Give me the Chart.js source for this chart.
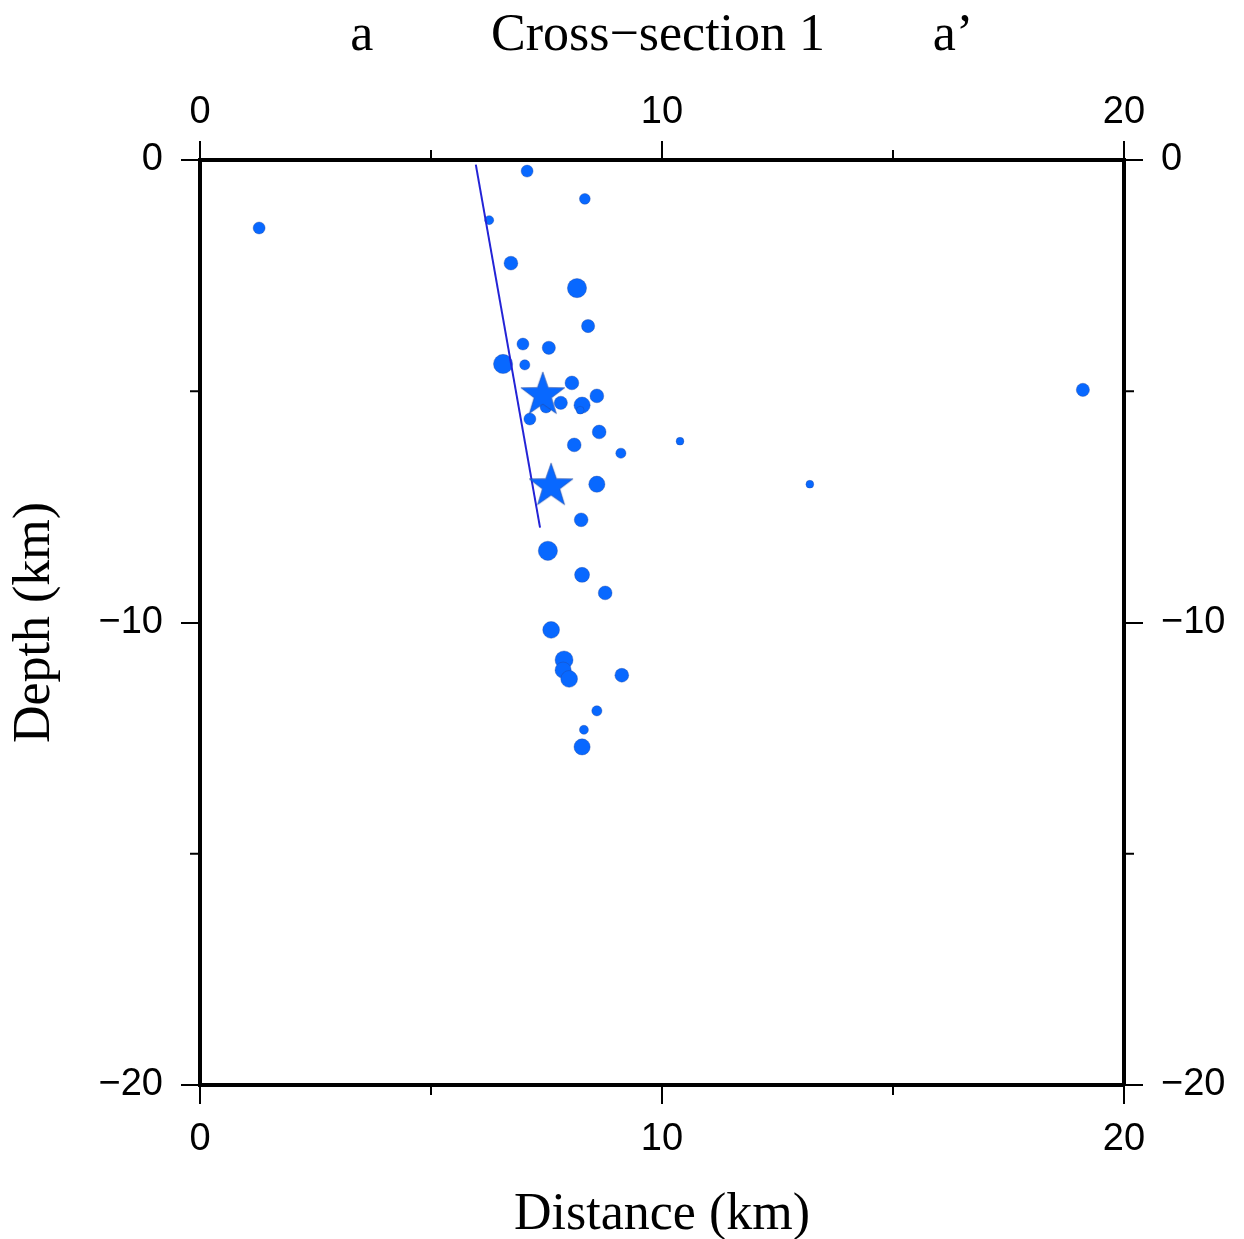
<!DOCTYPE html>
<html>
<head>
<meta charset="utf-8">
<script src="https://cdn.jsdelivr.net/npm/chart.js@4/dist/chart.umd.min.js"></script>
<style>
html,body{margin:0;padding:0;background:#fff;}
#wrap{width:1244px;height:1239px;}
</style>
</head>
<body>
<div id="wrap"><canvas id="c" width="1244" height="1239"></canvas></div>
<script>
// ---- data ----
const quakeDistance = [1.28,7.08,8.33,6.26,6.73,8.16,8.40,6.99,7.55,6.56,7.03,8.05,7.81,8.27,8.59,7.49,8.23,7.14,8.64,8.10,9.11,10.39,13.20,19.11,8.59,8.25,7.53,8.27,8.77,7.60,7.88,7.86,7.99,9.13,8.59,8.31,8.27];
const quakeDepth    = [-1.47,-0.24,-0.84,-1.30,-2.23,-2.77,-3.59,-3.98,-4.06,-4.41,-4.43,-4.82,-5.25,-5.30,-5.10,-5.34,-5.41,-5.60,-5.88,-6.16,-6.34,-6.08,-7.01,-4.97,-7.01,-7.78,-8.45,-8.97,-9.36,-10.16,-10.81,-11.03,-11.22,-11.14,-11.91,-12.32,-12.69];
const quakeMagnitude= [2.0,2.0,1.8,1.5,2.3,3.2,2.2,2.0,2.2,3.2,1.7,2.3,2.2,2.7,2.3,2.0,1.3,2.0,2.3,2.3,1.7,1.3,1.3,2.2,2.7,2.3,3.2,2.5,2.3,2.8,3.0,2.7,2.8,2.3,1.7,1.5,2.7];
const mainshockDistance = [7.42, 7.60];
const mainshockDepth    = [-5.04, -7.01];
const faultDistance = [5.97, 7.36];
const faultDepth    = [-0.10, -7.95];
const xTickLabels = [0, 10, 20];
const yTickLabels = [0, -10, -20];
const titleLeft = 'a', titleCenter = 'Cross\u2212section 1', titleRight = 'a\u2019';
const xTitle = 'Distance (km)', yTitle = 'Depth (km)';

// ---- styling ----
const BLUE = '#0868ff';
const SANS = '"Liberation Sans", Arial, sans-serif';
const SERIF = '"Liberation Serif", "Times New Roman", serif';

function makeStar(R){
  const s = Math.ceil(R*2+4), c = document.createElement('canvas');
  c.width = s; c.height = s;
  const g = c.getContext('2d');
  const r = R*0.4;
  g.beginPath();
  for(let i=0;i<10;i++){
    const a = -Math.PI/2 + i*Math.PI/5;
    const rr = i%2===0 ? R : r;
    const px = s/2 + rr*Math.cos(a), py = s/2 + rr*Math.sin(a) + R*0.08;
    if(i===0) g.moveTo(px,py); else g.lineTo(px,py);
  }
  g.closePath();
  g.fillStyle = BLUE; g.fill();
  g.lineWidth = 0.8; g.strokeStyle = 'rgba(40,70,150,0.7)'; g.stroke();
  return c;
}
const star = makeStar(23);

const fmt = v => (v < 0 ? '\u2212' + Math.abs(v) : String(v));
const isMajor = v => Math.abs(v % 10) < 1e-9;

function axisCommon(extra, pad){
  return Object.assign({
    type:'linear',
    border:{display:true, color:'#000', width:4},
    grid:{drawOnChartArea:false, tickLength:19, lineWidth:2,
      color: ctx => (ctx.tick && isMajor(ctx.tick.value)) ? '#000' : 'rgba(0,0,0,0)'},
    ticks:{stepSize:5, font:{family:SANS, size:38}, color:'#000', padding:pad,
      callback: v => isMajor(v) ? fmt(v) : ''}
  }, extra);
}

const minorTicks = {
  id:'minorTicks',
  afterDraw(chart){
    const g = chart.ctx, a = chart.chartArea;
    g.save(); g.strokeStyle = '#000'; g.lineWidth = 2;
    const L = 10;
    [5,15].forEach(v=>{
      const px = chart.scales.x.getPixelForValue(v);
      g.beginPath(); g.moveTo(px,a.bottom); g.lineTo(px,a.bottom+L); g.stroke();
      const px2 = chart.scales.x2.getPixelForValue(v);
      g.beginPath(); g.moveTo(px2,a.top); g.lineTo(px2,a.top-L); g.stroke();
    });
    [-5,-15].forEach(v=>{
      const py = chart.scales.y.getPixelForValue(v);
      g.beginPath(); g.moveTo(a.left,py); g.lineTo(a.left-L,py); g.stroke();
      const py2 = chart.scales.y2.getPixelForValue(v);
      g.beginPath(); g.moveTo(a.right,py2); g.lineTo(a.right+L,py2); g.stroke();
    });
    // titles
    g.fillStyle = '#000'; g.font = '52px ' + SERIF; g.textBaseline = 'alphabetic'; g.textAlign = 'center';
    const cx = (a.left + a.right)/2;
    g.fillText(titleCenter, cx - 4, 50);
    g.fillText(titleLeft, chart.scales.x2.getPixelForValue(3.5), 50);
    g.fillText(titleRight, chart.scales.x2.getPixelForValue(16.3), 50);
    g.restore();
  }
};

const quakes = quakeDistance.map((x,i)=>({x, y:quakeDepth[i]}));
const shocks = mainshockDistance.map((x,i)=>({x, y:mainshockDepth[i]}));
const fault = faultDistance.map((x,i)=>({x, y:faultDepth[i]}));

new Chart(document.getElementById('c'), {
  type:'scatter',
  data:{datasets:[
    {label:'events', data:quakes, order:3, xAxisID:'x', yAxisID:'y',
     backgroundColor:BLUE, borderColor:'rgba(40,70,150,0.6)', borderWidth:0.6,
     pointRadius: quakeMagnitude.map(m=>m*3), pointHoverRadius: quakeMagnitude.map(m=>m*3)},
    {label:'fault', type:'line', data:fault, order:2, xAxisID:'x', yAxisID:'y',
     borderColor:'#2323d6', borderWidth:2, pointRadius:0, fill:false, tension:0},
    {label:'mainshocks', data:shocks, order:1, xAxisID:'x', yAxisID:'y',
     pointStyle:star, pointRadius:23, backgroundColor:BLUE}
  ]},
  options:{
    responsive:false, animation:false, devicePixelRatio:1,
    layout:{padding:0},
    plugins:{legend:{display:false}, tooltip:{enabled:false}, title:{display:false}},
    scales:{
      x: axisCommon({position:'bottom', min:0, max:20,
        title:{display:true, text:xTitle, font:{family:SERIF, size:52}, color:'#000', padding:{top:0,bottom:-8}},
        afterFit: s => { s.height = 154; }}, 13),
      x2: axisCommon({position:'top', min:0, max:20,
        afterFit: s => { s.height = 160; }}, 6),
      y: axisCommon({position:'left', min:-20, max:0,
        title:{display:true, text:yTitle, font:{family:SERIF, size:52}, color:'#000', padding:{top:4,bottom:0}},
        afterFit: s => { s.width = 200; }}, 18),
      y2: axisCommon({position:'right', min:-20, max:0,
        afterFit: s => { s.width = 120; }}, 18)
    }
  },
  plugins:[minorTicks]
});
</script>
</body>
</html>
